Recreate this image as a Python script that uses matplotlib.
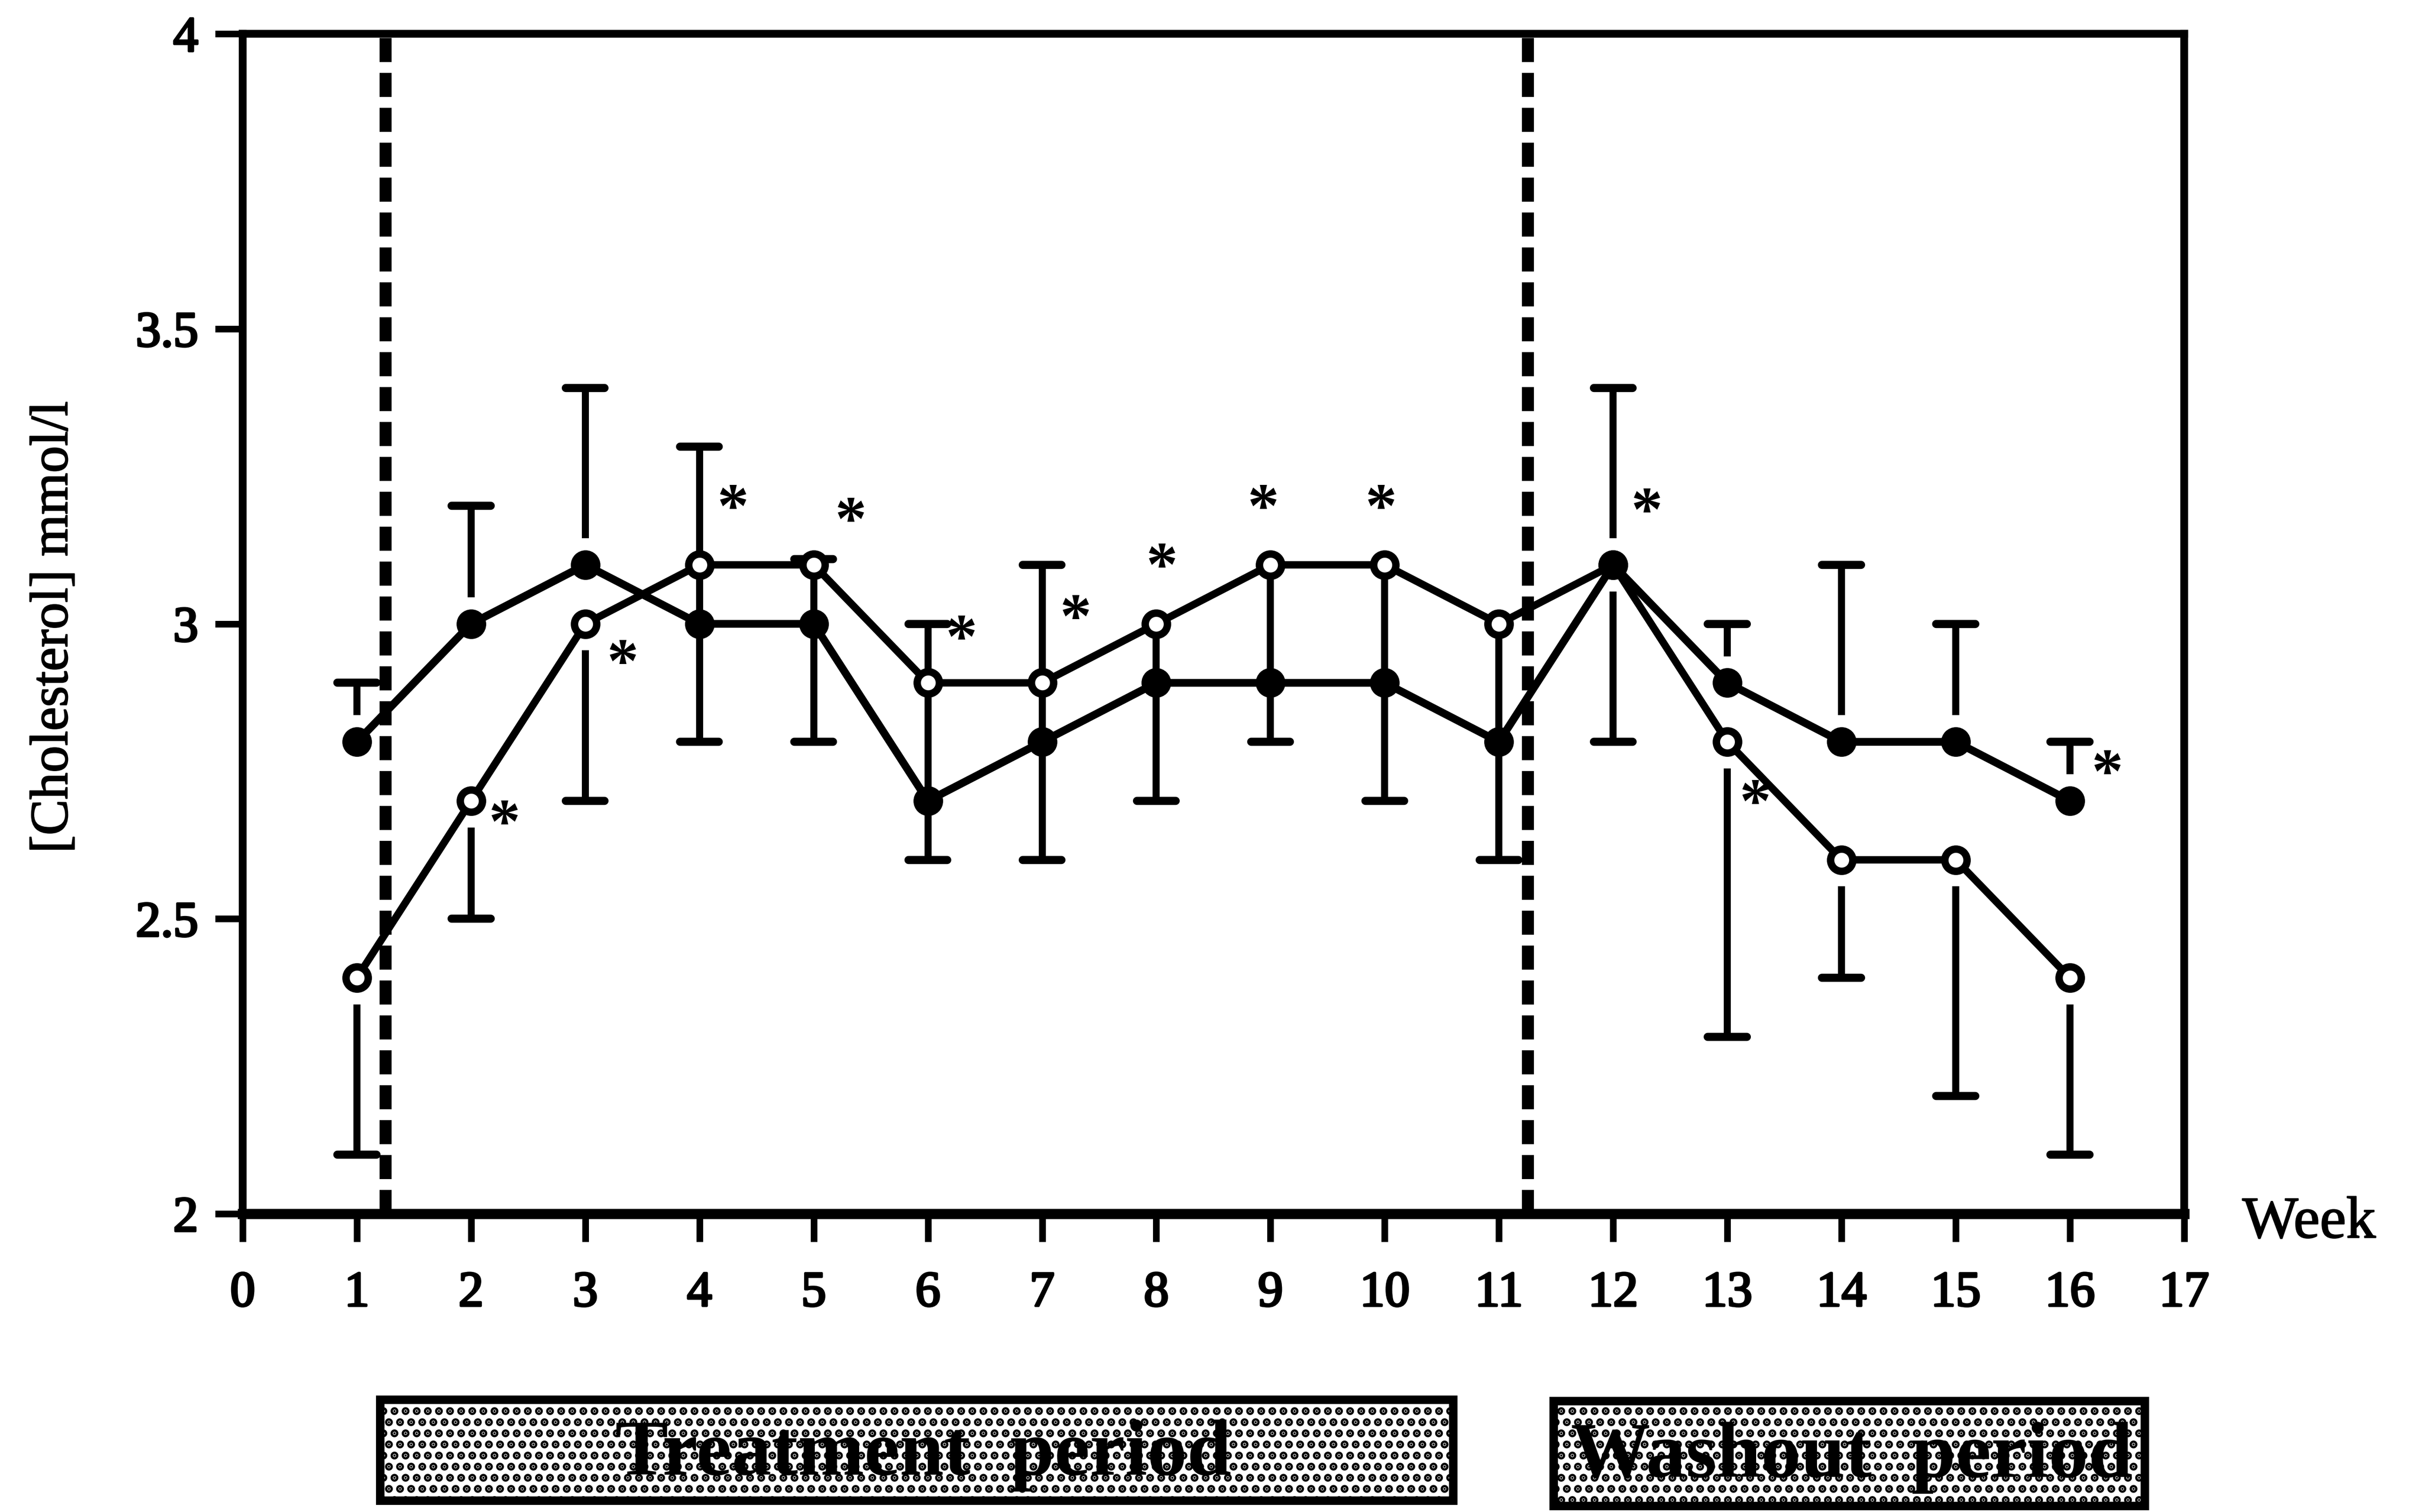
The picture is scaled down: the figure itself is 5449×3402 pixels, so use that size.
import numpy as np
import matplotlib
matplotlib.use("Agg")
import matplotlib.pyplot as plt
import matplotlib.patheffects as pe
from matplotlib.patches import Rectangle

# ---- data -------------------------------------------------------------
weeks = np.arange(1, 17)

# filled circles
filled_mean = [2.8, 3.0, 3.1, 3.0, 3.0, 2.7, 2.8, 2.9, 2.9, 2.9, 2.8, 3.1, 2.9, 2.8, 2.8, 2.7]
filled_low = [2.8, 3.0, 3.1, 2.8, 2.8, 2.6, 2.6, 2.7, 2.8, 2.7, 2.6, 3.1, 2.9, 2.8, 2.8, 2.7]
filled_high = [2.9, 3.2, 3.4, 3.0, 3.0, 2.7, 2.8, 2.9, 2.9, 2.9, 2.8, 3.4, 3.0, 3.1, 3.0, 2.8]

# open circles
open_mean = [2.4, 2.7, 3.0, 3.1, 3.1, 2.9, 2.9, 3.0, 3.1, 3.1, 3.0, 3.1, 2.8, 2.6, 2.6, 2.4]
open_low = [2.1, 2.5, 2.7, 3.0, 3.0, 2.7, 2.8, 2.9, 2.9, 2.9, 2.8, 2.8, 2.3, 2.4, 2.2, 2.1]
open_high = [2.4, 2.7, 3.0, 3.3, 3.11, 3.0, 3.1, 3.0, 3.1, 3.1, 3.0, 3.1, 2.8, 2.6, 2.6, 2.4]

# significance marks: week, series they belong to
star_weeks = [2, 3, 4, 5, 6, 7, 8, 9, 10, 12, 13, 16]
star_series = ["open"] * 11 + ["filled"]

x_ticks = list(range(0, 18))
y_ticks = [2, 2.5, 3, 3.5, 4]
y_ticklabels = ["2", "2.5", "3", "3.5", "4"]
period_bounds = [1.25, 11.25]
period_labels = ["Treatment  period", "Washout  period"]

# ---- styling ------------------------------------------------------------
SERIF = ["Liberation Serif", "DejaVu Serif"]
plt.rcParams["font.family"] = SERIF
plt.rcParams["hatch.linewidth"] = 3.0

heavy = [pe.withStroke(linewidth=1.2, foreground="black")]
light = [pe.withStroke(linewidth=0.6, foreground="black")]

# star label offsets (points) relative to their point
star_offsets = [(18, -14), (20, -23), (18, 29), (20, 22), (18, 22), (18, 33),
                (3, 29), (-4, 29), (-2, 29), (18, 27), (15, -35), (20, 13)]

fig = plt.figure(figsize=(5449 / 300, 3402 / 300), dpi=300)
ax = fig.add_axes([0.1002, 0.1972, 0.8016, 0.7804])

ax.set_xlim(0, 17)
ax.set_ylim(2, 4)

# period separators
for xb in period_bounds:
    ln = ax.axvline(xb, color="black", lw=6.5, zorder=1)
    ln.set_dashes((2.0, 0.9))

fm = np.array(filled_mean)
fl = np.array(filled_low)
fh = np.array(filled_high)
om = np.array(open_mean)
ol = np.array(open_low)
oh = np.array(open_high)

# weeks where the bars of the two groups join into one stem
linked = np.isclose(ol, fm) | np.isclose(fh, om)
gap = 0.045
cap_half = 0.17
stem_lw = 3.8
cap_lw = 4.4

def draw_bars(mean, low, high, other_mean):
    caps = []
    for i, w in enumerate(weeks):
        g = 0 if linked[i] else gap
        if low[i] < mean[i] - 1e-9:
            ax.vlines(w, low[i], mean[i] - g, color="black", lw=stem_lw, zorder=2)
            if not np.isclose(low[i], other_mean[i]):
                caps.append((w, low[i]))
        if high[i] > mean[i] + 1e-9:
            ax.vlines(w, mean[i] + g, high[i], color="black", lw=stem_lw, zorder=2)
            if not np.isclose(high[i], other_mean[i]):
                caps.append((w, high[i]))
    for w, v in caps:
        ax.hlines(v, w - cap_half, w + cap_half, color="black", lw=cap_lw,
                  zorder=2, capstyle="round")

draw_bars(fm, fl, fh, om)
draw_bars(om, ol, oh, fm)

ax.plot(weeks, om, color="black", lw=4.0, marker="o", ms=12, mew=4.0,
        mfc="white", mec="black", solid_joinstyle="round", zorder=3)
ax.plot(weeks, fm, color="black", lw=4.2, marker="o", ms=16, mew=0,
        mfc="black", solid_joinstyle="round", zorder=4)

# significance asterisks
for (w, s, off) in zip(star_weeks, star_series, star_offsets):
    yv = om[w - 1] if s == "open" else fm[w - 1]
    ax.annotate("*", xy=(w, yv), xytext=off, textcoords="offset points",
                ha="center", va="center", fontsize=34, fontweight="bold",
                family=SERIF, zorder=5)

# axes frame and ticks
for side in ["left", "right", "top"]:
    ax.spines[side].set_linewidth(4.2)
ax.spines["bottom"].set_linewidth(5.5)
ax.set_xticks(x_ticks)
ax.set_xticklabels([str(t) for t in x_ticks])
ax.set_yticks(y_ticks)
ax.set_yticklabels(y_ticklabels)
ax.tick_params(axis="both", direction="out", length=15, width=3.6,
               labelsize=27, colors="black")
ax.tick_params(axis="x", pad=16)
ax.tick_params(axis="y", pad=9)
for lab in ax.get_xticklabels() + ax.get_yticklabels():
    lab.set_path_effects(heavy)

fig.text(122 / 5449, 1 - 1411 / 3402, "[Cholesterol] mmol/l", rotation=90,
         ha="center", va="center", fontsize=29, path_effects=light)
fig.text(5195 / 5449, 1 - 2752 / 3402, "Week", ha="center", va="center",
         fontsize=32, path_effects=light)

# period boxes under the axis
boxes = [(0.157, 0.0077, 0.443, 0.0667), (0.6414, 0.0040, 0.2441, 0.0695)]
text_pos = [(0.3812, 0.0373), (0.7646, 0.0360)]
for (bx, by, bw, bh), (tx, ty), lab in zip(boxes, text_pos, period_labels):
    r = Rectangle((bx, by), bw, bh, transform=fig.transFigure, facecolor="white",
                  edgecolor="black", lw=4.6, hatch="..", zorder=1)
    fig.patches.append(r)
    fig.text(tx, ty, lab, ha="center", va="center", fontsize=43,
             fontweight="bold", zorder=3)

fig.savefig("out.png", dpi=300, facecolor="white")
